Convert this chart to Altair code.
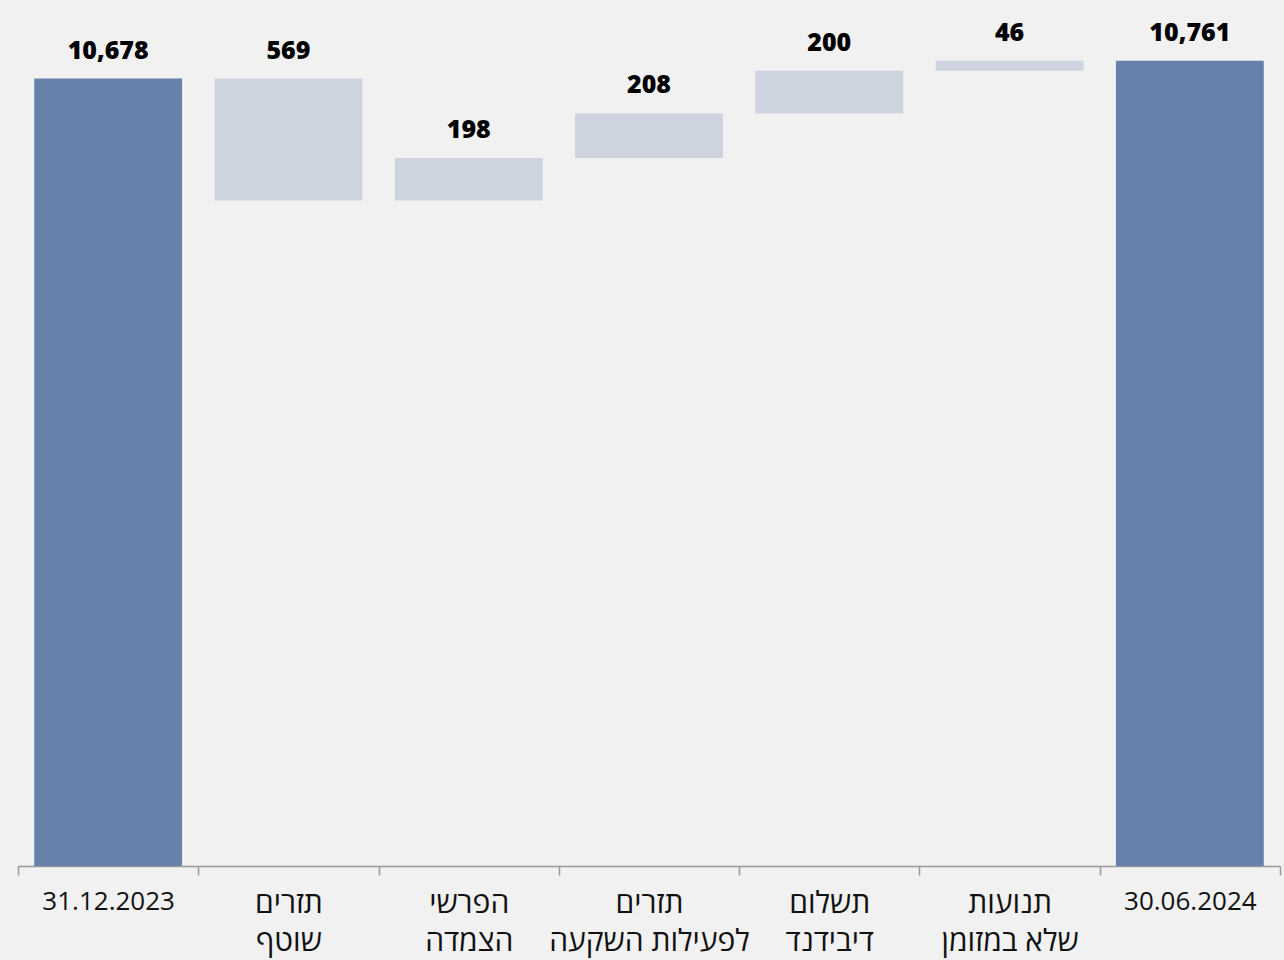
import altair as alt
import pandas as pd

categories = ["31.12.2023", "תזרים\nשוטף", "הפרשי\nהצמדה", "תזרים\nלפעילות השקעה",
              "תשלום\nדיבידנד", "תנועות\nשלא במזומן", "30.06.2024"]
amounts = [10678, -569, 198, 208, 200, 46, 10761]
kinds = ["total", "delta", "delta", "delta", "delta", "delta", "total"]
value_labels = ["10,678", "569", "198", "208", "200", "46", "10,761"]

rows = []
running = 0
for i, (c, a, k, lab) in enumerate(zip(categories, amounts, kinds, value_labels)):
    if k == "total":
        y, y2 = a, 0
        running = a
    else:
        y, y2 = running, running + a
        running = running + a
    rows.append({"order": i, "cat": c, "y": y, "y2": y2, "top": max(y, y2),
                 "kind": k, "label": lab})
df = pd.DataFrame(rows)

is_date = "test(/^[0-9]/, datum.value)"

xenc = alt.X("cat:N", sort=categories,
             scale=alt.Scale(paddingInner=0, paddingOuter=0),
             axis=alt.Axis(title=None, labelAngle=0, tickBand="extent",
                           labelExpr="split(datum.label, '\\n')",
                           labelFont="Open Sans",
                           labelFontSize={"condition": {"test": is_date, "value": 26},
                                          "value": 30},
                           labelLimit=400,
                           labelColor="#111111", labelLineHeight=38,
                           labelPadding=13, tickSize=9, tickColor="#9a9a9a",
                           domainColor="#9a9a9a", domainWidth=1.5, tickWidth=1.5,
                           labelBaseline="top"))
yscale = alt.Scale(domain=[7000, 11045], zero=False, nice=False)

bars = alt.Chart(df).mark_bar(width={"band": 0.82}, clip=True).encode(
    x=xenc,
    y=alt.Y("y:Q", scale=yscale, axis=None),
    y2="y2:Q",
    color=alt.Color("kind:N", scale=alt.Scale(domain=["total", "delta"],
                                               range=["#6781aa", "#cdd3df"]),
                    legend=None),
)

text = alt.Chart(df).mark_text(font="Open Sans", fontWeight=800, fontSize=25,
                               color="#000000", baseline="alphabetic", dy=-20).encode(
    x=alt.X("cat:N", sort=categories),
    y=alt.Y("top:Q", scale=yscale),
    text="label:N",
)

chart = alt.layer(bars, text).properties(
    width=1262, height=866,
    background="#f1f1f1",
    padding={"left": 18, "right": 4, "top": 0, "bottom": 94},
    autosize=alt.AutoSizeParams(type="none"),
).configure_view(stroke=None)

chart.save("out.html", embed_options={"renderer": "svg", "actions": False})
